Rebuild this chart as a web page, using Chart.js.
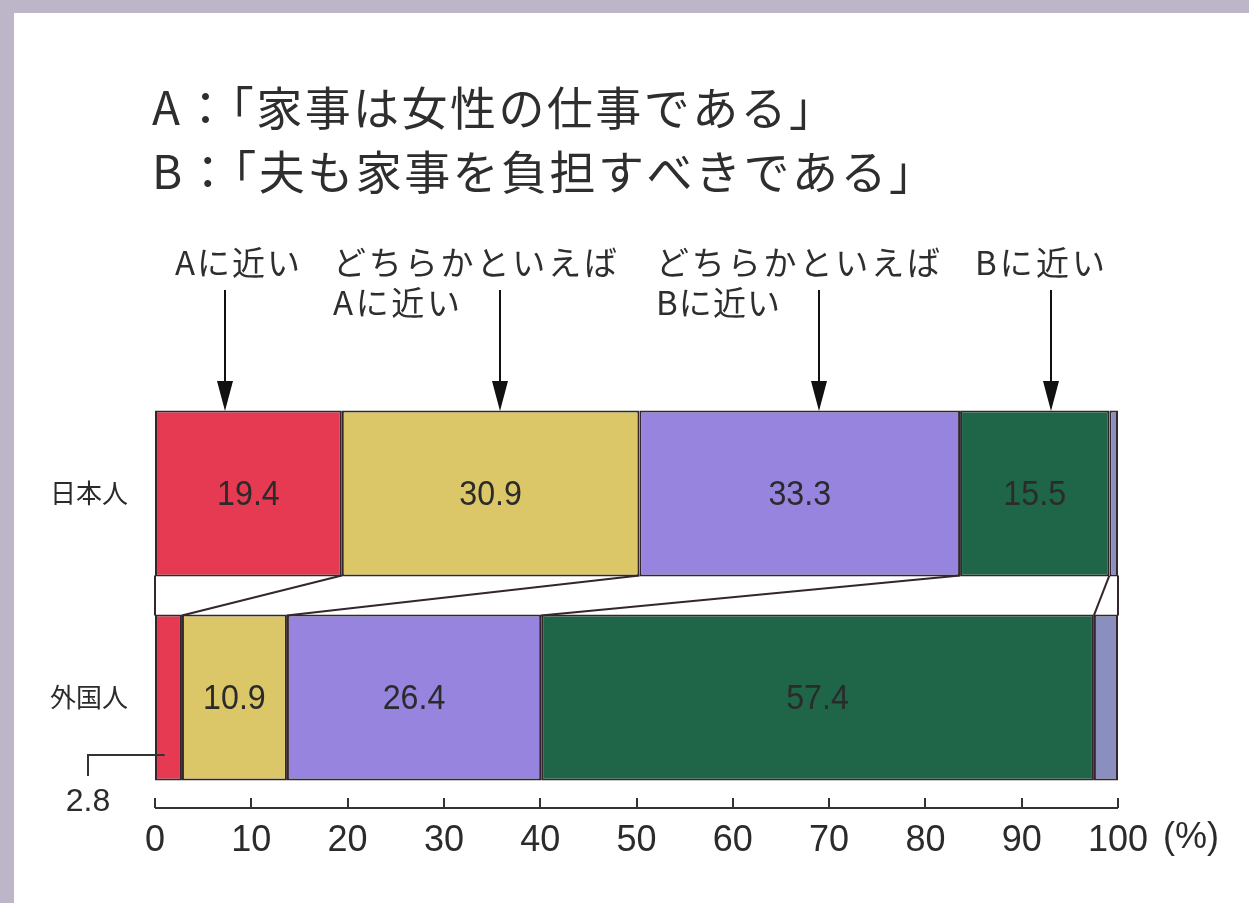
<!DOCTYPE html>
<html><head><meta charset="utf-8">
<script src="https://cdn.jsdelivr.net/npm/chart.js@4.4.1/dist/chart.umd.min.js"></script>
<style>html,body{margin:0;padding:0;background:#fff;overflow:hidden}canvas{display:block}</style>
</head><body>
<canvas id="c" width="1249" height="903"></canvas>
<script>
// ---- data ----
const categories = ['日本人', '外国人'];
const seriesNames = ['Aに近い', 'どちらかといえばAに近い', 'どちらかといえばBに近い', 'Bに近い', '無回答'];
const japanese = [19.4, 30.9, 33.3, 15.5, 0.9];
const foreign = [2.8, 10.9, 26.4, 57.4, 2.5];
const xTickValues = [0, 10, 20, 30, 40, 50, 60, 70, 80, 90, 100];
const titleLines = ['A：「家事は女性の仕事である」', 'B：「夫も家事を負担すべきである」'];
const arrowLabels = [['Aに近い'], ['どちらかといえば', 'Aに近い'], ['どちらかといえば', 'Bに近い'], ['Bに近い']];
const unitLabel = '(%)';

// ---- styles ----
const seriesColors = ['#e63a52', '#dcc768', '#9684de', '#1f6649', '#8a8fc0'];
const borderCol = '#33262c';
const textCol = '#2b2b2b';
const JP = '"Noto Sans CJK JP", "Noto Sans", sans-serif';
const NUM = '"Liberation Sans Narrow", "Liberation Sans", Arial, sans-serif';

const seriesByCat = [japanese, foreign];
const datasets = seriesNames.map((name, i) => ({
  label: name,
  data: seriesByCat.map(s => s[i]),
  backgroundColor: seriesColors[i],
  borderColor: borderCol,
  borderWidth: 2,
  borderSkipped: false,
  barPercentage: 0.814,
  categoryPercentage: 1.0
}));

function fitText(ctx, text, x, y, width) {
  ctx.letterSpacing = '0px';
  const w = ctx.measureText(text).width;
  const n = [...text].length;
  const sp = n > 1 ? (width - w) / (n - 1) : 0;
  ctx.letterSpacing = sp + 'px';
  ctx.fillText(text, x, y);
  ctx.letterSpacing = '0px';
}

const decor = {
  id: 'decor',
  beforeDraw(chart) {
    const ctx = chart.ctx;
    ctx.save();
    ctx.fillStyle = '#bdb6c9';
    ctx.fillRect(0, 0, chart.width, chart.height);
    ctx.fillStyle = '#ffffff';
    ctx.fillRect(14, 13, chart.width - 14, chart.height - 13);
    ctx.restore();
  },
  afterDatasetsDraw(chart) {
    const ctx = chart.ctx;
    const xs = chart.scales.x;
    const m0 = chart.getDatasetMeta(0);
    const topBar = m0.data[0], botBar = m0.data[1];
    const yTopBottom = topBar.y + topBar.height / 2;
    const yBotTop = botBar.y - botBar.height / 2;
    ctx.save();
    // connectors between bars
    const cumJ = [0], cumF = [0];
    japanese.forEach((v, i) => cumJ.push(cumJ[i] + v));
    foreign.forEach((v, i) => cumF.push(cumF[i] + v));
    cumJ[cumJ.length - 1] = 100; cumF[cumF.length - 1] = 100;
    ctx.strokeStyle = borderCol;
    ctx.lineWidth = 2;
    for (let k = 0; k < cumJ.length; k++) {
      ctx.beginPath();
      ctx.moveTo(xs.getPixelForValue(cumJ[k]), yTopBottom - 1);
      ctx.lineTo(xs.getPixelForValue(cumF[k]), yBotTop + 1);
      ctx.stroke();
    }
    // value labels
    ctx.fillStyle = textCol;
    ctx.textAlign = 'center';
    ctx.textBaseline = 'middle';
    chart.data.datasets.forEach((ds, i) => {
      const meta = chart.getDatasetMeta(i);
      meta.data.forEach((el, j) => {
        const v = ds.data[j];
        if (v < 5) return;
        const cx = (el.x + el.base) / 2;
        ctx.save();
        ctx.translate(cx, el.y + 2);
        ctx.scale(0.92, 1);
        ctx.font = '35px ' + NUM;
        ctx.fillText(v.toFixed(1), 0, 0);
        ctx.restore();
      });
    });
    // callout for small value
    const cxSmall = xs.getPixelForValue(1.0);
    ctx.beginPath();
    ctx.moveTo(cxSmall, 755);
    ctx.lineTo(88, 755);
    ctx.lineTo(88, 776);
    ctx.lineWidth = 2;
    ctx.strokeStyle = '#333';
    ctx.stroke();
    ctx.font = '32px ' + NUM;
    ctx.fillText(foreign[0].toFixed(1), 88, 802);
    // axis line and ticks
    const yAxis = 808;
    ctx.strokeStyle = '#333';
    ctx.lineWidth = 2;
    ctx.beginPath();
    ctx.moveTo(xs.getPixelForValue(0), yAxis);
    ctx.lineTo(xs.getPixelForValue(100), yAxis);
    ctx.stroke();
    xs.ticks.forEach(t => {
      const px = Math.round(xs.getPixelForValue(t.value));
      ctx.beginPath();
      ctx.moveTo(px, yAxis);
      ctx.lineTo(px, yAxis - 10);
      ctx.stroke();
    });
    ctx.fillStyle = textCol;
    ctx.textAlign = 'left';
    ctx.font = '36px ' + NUM;
    ctx.fillText(unitLabel, 1163, 838);
    // titles
    ctx.fillStyle = '#2e2e2e';
    ctx.textAlign = 'left';
    ctx.textBaseline = 'middle';
    ctx.font = '46px ' + JP;
    fitText(ctx, titleLines[0], 152, 108, 683);
    fitText(ctx, titleLines[1], 152, 172, 783);
    // arrow labels
    ctx.font = '33px ' + JP;
    const labelPos = [[[175, 262, 125]], [[333, 262, 284], [333, 302, 127]], [[656, 262, 284], [656, 302, 124]], [[975, 262, 130]]];
    arrowLabels.forEach((lines, i) => {
      lines.forEach((ln, j) => {
        const p = labelPos[i][j];
        fitText(ctx, ln, p[0], p[1], p[2]);
      });
    });
    // arrows
    const arrowAt = [7.3, 35.8, 69.0, 93.0];
    const yArrowTop = 290, yArrowTip = 411;
    ctx.strokeStyle = '#111';
    ctx.fillStyle = '#111';
    ctx.lineWidth = 2;
    arrowAt.forEach(v => {
      const ax = Math.round(xs.getPixelForValue(v));
      ctx.beginPath();
      ctx.moveTo(ax, yArrowTop);
      ctx.lineTo(ax, yArrowTip - 20);
      ctx.stroke();
      ctx.beginPath();
      ctx.moveTo(ax - 8, yArrowTip - 30);
      ctx.lineTo(ax + 8, yArrowTip - 30);
      ctx.lineTo(ax, yArrowTip);
      ctx.closePath();
      ctx.fill();
    });
    ctx.restore();
  }
};

new Chart(document.getElementById('c'), {
  type: 'bar',
  data: { labels: categories, datasets },
  options: {
    indexAxis: 'y',
    responsive: false,
    animation: false,
    layout: { padding: { top: 391.5, right: 131, left: 0, bottom: 0 } },
    plugins: { legend: { display: false }, tooltip: { enabled: false } },
    scales: {
      x: {
        stacked: true, min: 0, max: 100,
        afterBuildTicks(scale) { scale.ticks = xTickValues.map(v => ({ value: v })); },
        afterFit(scale) { scale.height = 103.5; },
        grid: { display: false, drawTicks: false },
        border: { display: false },
        ticks: { color: textCol, padding: 20, maxRotation: 0, autoSkip: false, font: { family: NUM, size: 36 } }
      },
      y: {
        stacked: true,
        afterFit(scale) { scale.width = 155; },
        grid: { display: false, drawTicks: false },
        border: { display: false },
        ticks: { color: textCol, padding: 27, font: { family: JP, size: 26 } }
      }
    }
  },
  plugins: [decor]
});
</script>
</body></html>
